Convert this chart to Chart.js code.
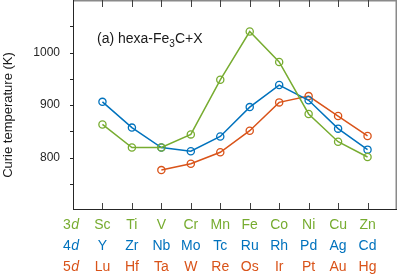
<!DOCTYPE html>
<html>
<head>
<meta charset="utf-8">
<script src="https://cdn.jsdelivr.net/npm/chart.js@4"></script>
<style>
html,body{margin:0;padding:0;background:#fff;}
#wrap{width:398px;height:275px;}
</style>
</head>
<body>
<div id="wrap"><canvas id="c" width="398" height="275"></canvas></div>
<script>
const rowLabels = ['3', '4', '5'];
const elements3d = ['Sc','Ti','V','Cr','Mn','Fe','Co','Ni','Cu','Zn'];
const elements4d = ['Y','Zr','Nb','Mo','Tc','Ru','Rh','Pd','Ag','Cd'];
const elements5d = ['Lu','Hf','Ta','W','Re','Os','Ir','Pt','Au','Hg'];
const tc3d = [863, 819, 819, 844, 948, 1040, 982, 883, 830, 801];
const tc4d = [906, 857, 819, 812, 840, 896, 938, 909, 855, 815];
const tc5d = [null, null, 776, 788, 810, 851, 905, 917, 879, 841];
const yLabels = [800, 900, 1000];
const yMinor = [750, 850, 950, 1050];

const GREEN = '#77AC30', BLUE = '#0072BD', ORANGE = '#D95319';
const FONT = '"Liberation Sans", Arial, Helvetica, sans-serif';

function toPts(arr){ return arr.map((v,i)=>({x:i, y:v})); }
function ds(label, arr, color){
  return {label, data: toPts(arr), borderColor: color, backgroundColor: color,
    borderWidth: 1.5, pointRadius: 3.6, pointBorderWidth: 1.3,
    pointBackgroundColor: 'rgba(255,255,255,0)', pointBorderColor: color,
    tension: 0, spanGaps: false};
}

const decor = {
  id: 'decor',
  afterDraw(chart){
    const ctx = chart.ctx, a = chart.chartArea;
    const xs = chart.scales.x, ys = chart.scales.y;
    ctx.save();
    const T = Math.round(a.top), R = Math.round(a.right);
    const L = Math.round(a.left), B = Math.round(a.bottom);
    // top & right frame (gray)
    ctx.fillStyle = '#8a8a8a';
    ctx.fillRect(L, T, R - L, 1.5);
    ctx.fillRect(R - 1.5, T, 1.5, B - T);
    // left & bottom axes (dark)
    ctx.fillStyle = '#262626';
    ctx.fillRect(L, T, 1, B - T);
    ctx.fillRect(L, B - 1, R - L, 1);
    // y ticks outward
    yLabels.concat(yMinor).forEach(v => {
      const py = Math.round(ys.getPixelForValue(v));
      ctx.fillRect(L - 3, py, 3, 1);
    });
    // inward x ticks top & bottom
    ctx.fillStyle = '#404040';
    for (let i = 0; i < elements3d.length; i++){
      const px = Math.round(xs.getPixelForValue(i));
      ctx.fillRect(px, B - 7, 1, 6);
      ctx.fillRect(px, T, 1, 7);
    }
    // y labels
    ctx.fillStyle = '#262626';
    ctx.font = '12px ' + FONT;
    ctx.textAlign = 'right'; ctx.textBaseline = 'middle';
    yLabels.forEach(v => ctx.fillText(String(v), 60, ys.getPixelForValue(v)));
    // category rows
    const rows = [[elements3d, GREEN], [elements4d, BLUE], [elements5d, ORANGE]];
    ctx.textBaseline = 'alphabetic';
    rows.forEach((r, k) => {
      const base = a.bottom + 19 + k*21;
      ctx.fillStyle = r[1];
      ctx.font = '14px ' + FONT;
      ctx.textAlign = 'center';
      r[0].forEach((t, i) => ctx.fillText(t, xs.getPixelForValue(i), base));
      ctx.textAlign = 'left';
      ctx.fillText(rowLabels[k], 63, base);
      const w = ctx.measureText(rowLabels[k]).width;
      ctx.font = 'italic 14px ' + FONT;
      ctx.fillText('d', 63 + w + 0.5, base);
    });
    // annotation
    ctx.fillStyle = '#1a1a1a';
    ctx.textAlign = 'left';
    ctx.font = '14px ' + FONT;
    let x = 97; const by = 43;
    ctx.fillText('(a) hexa-Fe', x, by); x += ctx.measureText('(a) hexa-Fe').width;
    ctx.font = '10px ' + FONT;
    ctx.fillText('3', x, by + 4); x += ctx.measureText('3').width;
    ctx.font = '14px ' + FONT;
    ctx.fillText('C+X', x, by);
    // y title
    ctx.translate(12, 115);
    ctx.rotate(-Math.PI/2);
    ctx.textAlign = 'center';
    ctx.font = '13px ' + FONT;
    ctx.fillText('Curie temperature (K)', 0, 0);
    ctx.restore();
  }
};

new Chart(document.getElementById('c'), {
  type: 'line',
  data: { datasets: [ds('3d', tc3d, GREEN), ds('4d', tc4d, BLUE), ds('5d', tc5d, ORANGE)] },
  options: {
    responsive: false, animation: false, devicePixelRatio: 1,
    layout: { autoPadding: false, padding: { top: 0, right: 1, left: 0, bottom: 0 } },
    plugins: { legend: { display: false }, tooltip: { enabled: false } },
    scales: {
      x: { type: 'linear', min: -1, max: 10,
        grid: { display: false }, border: { display: false },
        ticks: { display: false },
        afterFit(s){ s.height = 65; } },
      y: { min: 700, max: 1100,
        grid: { display: false }, border: { display: false },
        ticks: { display: false },
        afterFit(s){ s.width = 73; } }
    }
  },
  plugins: [decor]
});
</script>
</body>
</html>
